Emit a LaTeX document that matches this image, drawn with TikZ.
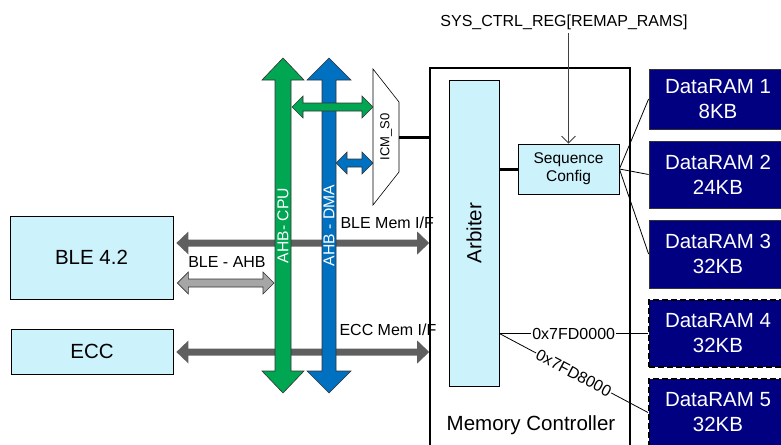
\documentclass[tikz,border=0pt]{standalone}
\usepackage{fontspec}
\setmainfont{Liberation Sans}
\usetikzlibrary{arrows.meta,calc}

\definecolor{ahbgreen}{HTML}{00A651}
\definecolor{ahbblue}{HTML}{0070C0}
\definecolor{memgray}{HTML}{5F5F5F}
\definecolor{ahbgray}{HTML}{A6A6A6}
\definecolor{blkcyan}{HTML}{CCF2FC}
\definecolor{ramnavy}{HTML}{000080}

% block arrows: style, from, to, half shaft, half head, head length
\newcommand{\hblock}[6]{%
  \filldraw[#1] let \p1=#2, \p2=#3 in
    (\x1,\y1) -- (\x1+#6,\y1+#5) -- (\x1+#6,\y1+#4) -- (\x2-#6,\y2+#4)
    -- (\x2-#6,\y2+#5) -- (\x2,\y2) -- (\x2-#6,\y2-#5) -- (\x2-#6,\y2-#4)
    -- (\x1+#6,\y1-#4) -- (\x1+#6,\y1-#5) -- cycle;}
\newcommand{\vblock}[6]{%
  \filldraw[#1] let \p1=#2, \p2=#3 in
    (\x1,\y1) -- (\x1+#5,\y1-#6) -- (\x1+#4,\y1-#6) -- (\x2+#4,\y2+#6)
    -- (\x2+#5,\y2+#6) -- (\x2,\y2) -- (\x2-#5,\y2+#6) -- (\x2-#4,\y2+#6)
    -- (\x1-#4,\y1-#6) -- (\x1-#5,\y1-#6) -- cycle;}

\tikzset{
  blk/.style={draw,fill=blkcyan,line width=0.8pt,inner sep=0pt,align=center},
  ram/.style={draw=black!80,fill=ramnavy,text=white,line width=0.8pt,minimum width=138pt,inner sep=0pt,align=center,font=\fontsize{20.5}{25}\selectfont},
  ramopt/.style={ram,draw=black,line width=2pt,dash pattern=on 6pt off 3pt},
  bigtxt/.style={font=\fontsize{20.5}{25}\selectfont},
  bus/.style={draw=black!80,line width=0.6pt},
  link/.style={draw=black,line width=0.8pt},
  fat/.style={draw=black,line width=3pt},
}

\begin{document}
\begin{tikzpicture}[x=1pt,y=-1pt,every node/.style={font=\fontsize{16}{18}\selectfont}]
  \useasboundingbox (0,0) rectangle (781,444);
  \clip (0,0) rectangle (781,444);
  % masters
  \node[blk,bigtxt,minimum width=163pt,minimum height=83pt] (ble) at (91.5,257.5) {BLE 4.2};
  \node[blk,bigtxt,minimum width=162pt,minimum height=45pt] (ecc) at (92,351.5) {ECC};
  % memory controller
  \node[draw,line width=1.6pt,minimum width=200pt,minimum height=400pt] (mc) at (530,268) {};
  \node[bigtxt] (mclbl) at (531,425) {Memory Controller};
  \node[blk,minimum width=50pt,minimum height=306pt] (arb) at (474,233) {};
  \node[bigtxt,rotate=90] (arblbl) at (arb) {Arbiter};
  \node[blk,font=\fontsize{15.5}{18}\selectfont,minimum width=101pt,minimum height=50pt] (seq) at (568.5,169) {Sequence\\Config};
  \node (sys) at (564,22) {SYS\_CTRL\_REG[REMAP\_RAMS]};
  \draw[draw=black!75,line width=0.8pt,-{Straight Barb[length=7pt,width=14pt]}] (seq.north |- sys.south) -- (seq.north);
  % data rams
  \node[ram,minimum height=60pt] (ram1) at (718,99) {DataRAM 1\\8KB};
  \node[ram,minimum height=67pt] (ram2) at (718,174.5) {DataRAM 2\\24KB};
  \node[ram,minimum height=68pt] (ram3) at (718,254) {DataRAM 3\\32KB};
  \node[ramopt,minimum height=67pt] (ram4) at (718,333.5) {DataRAM 4\\32KB};
  \node[ramopt,minimum height=67pt] (ram5) at (718,412.5) {DataRAM 5\\32KB};
  \draw[fat] (arb.east |- seq.west) -- (seq.west);
  \foreach \r in {1,2,3}
    \draw[link] (seq.east) -- (ram\r.west);
  \draw[link] (arb.east |- ram4.west) -- node[fill=white,inner sep=1pt] (addr4) {0x7FD0000} (ram4.west);
  \draw[link] (arb.east |- ram4.west) -- node[sloped,fill=white,inner sep=1pt] (addr5) {0x7FD8000} (ram5.west);
  % memory interfaces
  \coordinate (bleif) at ([xshift=3pt,yshift=14.5pt]ble.east);
  \coordinate (eccif) at ([xshift=3pt,yshift=-0.5pt]ecc.east);
  \hblock{fill=memgray,draw=none}{(bleif)}{(bleif -| mc.west)}{3.5pt}{11.5pt}{12pt}
  \hblock{fill=memgray,draw=none}{(eccif)}{(eccif -| mc.west)}{3.5pt}{11.5pt}{12pt}
  \node[anchor=west] (blememif) at (337,223) {BLE Mem I/F};
  \node[anchor=west] (eccmemif) at (336,330) {ECC Mem I/F};
  \node (bleahblbl) at (227,262) {BLE - AHB};
  % AHB buses
  \coordinate (cputop) at (283,58);
  \coordinate (cpubot) at (283,393);
  \coordinate (dmatop) at (329,58);
  \coordinate (dmabot) at (329,393);
  \vblock{bus,fill=ahbgreen}{(cputop)}{(cpubot)}{8pt}{21pt}{22pt}
  \vblock{bus,fill=ahbblue}{(dmatop)}{(dmabot)}{7pt}{22pt}{22pt}
  \node[rotate=90,text=white,font=\fontsize{15.7}{18}\selectfont] (cpu) at ($(cputop)!0.5!(cpubot)$) {AHB- CPU};
  \node[rotate=90,text=white,font=\fontsize{15.7}{18}\selectfont] (dma) at ($(dmatop)!0.5!(dmabot)$) {AHB - DMA};
  % interconnect mux
  \coordinate (muxtl) at (373,69);
  \coordinate (muxtr) at (399,102);
  \coordinate (muxbr) at (399,172);
  \coordinate (muxbl) at (373,205);
  \filldraw[fill=white,draw=black,line width=0.6pt] (muxtl) -- (muxtr) -- (muxbr) -- (muxbl) -- cycle;
  \node[rotate=90,font=\fontsize{13}{15}\selectfont] (icm) at (386,137) {ICM\_S0};
  \coordinate (muxout) at (399,137);
  \draw[fat] (muxout) -- (muxout -| mc.west);
  % bus ports
  \coordinate (cpuout) at (292,107);
  \coordinate (dmaout) at (336,163);
  \coordinate (bleahb) at ([xshift=4pt,yshift=-25.5pt]ble.east);
  \hblock{bus,fill=ahbgray}{(bleahb)}{($(bleahb -| cputop)+(-9,0)$)}{4pt}{11pt}{11pt}
  \hblock{bus,fill=ahbgreen}{(cpuout)}{(cpuout -| muxtl)}{4pt}{11pt}{11pt}
  \hblock{bus,fill=ahbblue}{(dmaout)}{(dmaout -| muxtl)}{4pt}{11pt}{11pt}
\end{tikzpicture}
\end{document}
